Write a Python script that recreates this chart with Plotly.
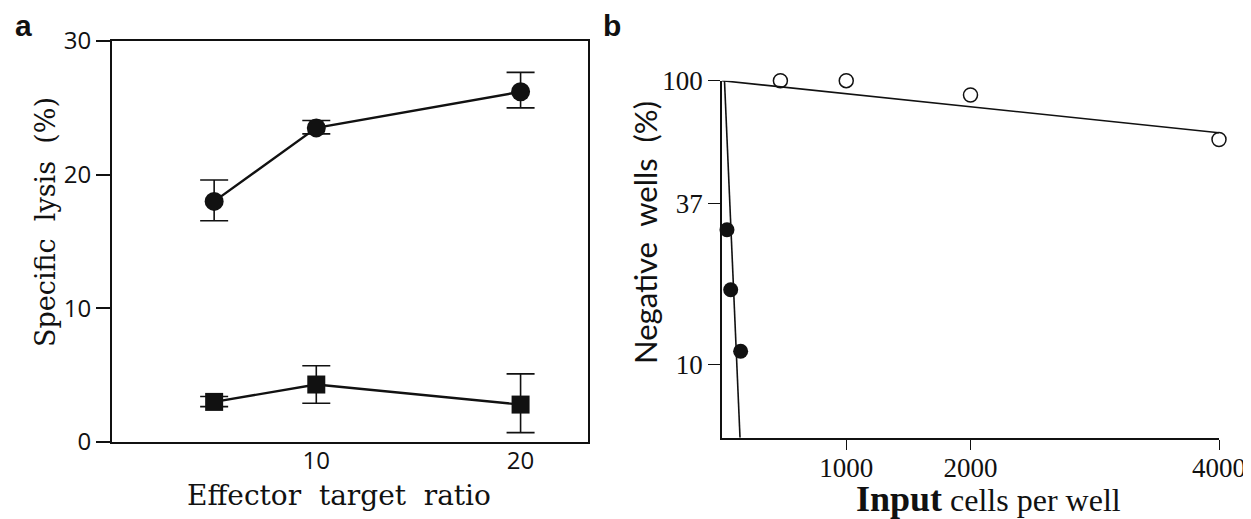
import plotly.graph_objects as go

# The page body has an 8 px margin, so the figure is drawn 8 px in from the
# window's top-left corner; size it to fill the rest of the 1251x519 window.
OFF = 8
W, H = 1251 - OFF, 519 - OFF

# ---- Panel a data ----
ratio = [5, 10, 20]
lysis_circle = [18.0, 23.5, 26.2]
lysis_circle_err_plus = [1.6, 0.55, 1.45]
lysis_circle_err_minus = [1.45, 0.45, 1.2]
lysis_square = [3.0, 4.3, 2.8]
lysis_square_err_plus = [0.4, 1.4, 2.3]
lysis_square_err_minus = [0.35, 1.4, 2.1]
a_xtick_vals = [10, 20]
a_ytick_vals = [0, 10, 20, 30]

# ---- Panel b data ----
open_x = [470, 1000, 2000, 4000]
open_y = [100, 100, 89, 62]
filled_x = [40, 70, 150]
filled_y = [29.8, 18.3, 11.1]
fit_open_x = [0, 4000]
fit_open_y = [100, 65.5]
fit_filled_x = [20, 145]
fit_filled_y = [100, 5.5]
b_xtick_vals = [1000, 2000, 4000]
b_ytick_vals = [10, 37, 100]

BLACK = "#111111"

fig = go.Figure()

# Panel a traces
fig.add_trace(go.Scatter(
    x=ratio, y=lysis_circle, mode="lines+markers",
    line=dict(color=BLACK, width=2.4),
    marker=dict(symbol="circle", size=19, color=BLACK),
    error_y=dict(type="data", array=lysis_circle_err_plus, arrayminus=lysis_circle_err_minus,
                 color=BLACK, thickness=1.6, width=14),
    xaxis="x", yaxis="y", showlegend=False, cliponaxis=False))
fig.add_trace(go.Scatter(
    x=ratio, y=lysis_square, mode="lines+markers",
    line=dict(color=BLACK, width=2.4),
    marker=dict(symbol="square", size=18, color=BLACK),
    error_y=dict(type="data", array=lysis_square_err_plus, arrayminus=lysis_square_err_minus,
                 color=BLACK, thickness=1.6, width=14),
    xaxis="x", yaxis="y", showlegend=False, cliponaxis=False))

# Panel b traces
fig.add_trace(go.Scatter(
    x=fit_open_x, y=fit_open_y, mode="lines",
    line=dict(color=BLACK, width=1.6),
    xaxis="x2", yaxis="y2", showlegend=False, cliponaxis=False))
fig.add_trace(go.Scatter(
    x=fit_filled_x, y=fit_filled_y, mode="lines",
    line=dict(color=BLACK, width=1.6),
    xaxis="x2", yaxis="y2", showlegend=False, cliponaxis=False))
fig.add_trace(go.Scatter(
    x=open_x, y=open_y, mode="markers",
    marker=dict(symbol="circle-open", size=14, color=BLACK, line=dict(width=1.5, color=BLACK)),
    xaxis="x2", yaxis="y2", showlegend=False, cliponaxis=False))
fig.add_trace(go.Scatter(
    x=filled_x, y=filled_y, mode="markers",
    marker=dict(symbol="circle", size=15, color=BLACK),
    xaxis="x2", yaxis="y2", showlegend=False, cliponaxis=False))

def px_x(p):
    return (p - OFF) / W

def px_y(p):
    return 1 - (p - OFF) / H

a_font = dict(family="Open Sans", size=24, color=BLACK)
b_font = dict(family="Liberation Serif", size=27, color=BLACK)

fig.update_layout(
    template="none",
    width=W, height=H,
    margin=dict(l=0, r=0, t=0, b=0, pad=0, autoexpand=False),
    paper_bgcolor="white", plot_bgcolor="white",
    xaxis=dict(domain=[px_x(112), px_x(588)], range=[0, 23.3],
               tickvals=a_xtick_vals, ticks="", showgrid=False, zeroline=False,
               showline=True, linecolor=BLACK, linewidth=1.8, mirror=True,
               tickfont=a_font, anchor="y", automargin=False, ticklabelstandoff=-4),
    yaxis=dict(domain=[px_y(442), px_y(41)], range=[0, 30],
               tickvals=a_ytick_vals, ticks="outside", ticklen=14, tickwidth=1.6,
               tickcolor=BLACK, showgrid=False, zeroline=False,
               showline=True, linecolor=BLACK, linewidth=1.8, mirror=True,
               tickfont=a_font, anchor="x", automargin=False),
    xaxis2=dict(domain=[px_x(722), px_x(1219)], range=[0, 4000],
                tickvals=b_xtick_vals, ticks="outside", ticklen=10, tickwidth=1.4,
                tickcolor=BLACK, showgrid=False, zeroline=False,
                showline=True, linecolor=BLACK, linewidth=1.6,
                tickfont=b_font, anchor="y2", automargin=False, ticklabelstandoff=-5),
    yaxis2=dict(domain=[px_y(437.7), px_y(80.7)], type="log",
                range=[0.7404, 2.0], tickvals=b_ytick_vals,
                ticktext=[str(v) for v in b_ytick_vals],
                ticks="outside", ticklen=12, tickwidth=1.4, tickcolor=BLACK,
                showgrid=False, zeroline=False,
                showline=True, linecolor=BLACK, linewidth=1.6,
                tickfont=b_font, anchor="x2", automargin=False),
)

panel_font = dict(family="Liberation Sans", size=30, color=BLACK)
ann = [
    dict(text="<b>a</b>", x=px_x(23), y=1.0, yanchor="top", font=panel_font),
    dict(text="<b>b</b>", x=px_x(612), y=1.0, yanchor="top", font=panel_font),
    dict(text="Specific  lysis  (%)", x=px_x(45), y=px_y(222), textangle=-90,
         font=dict(family="DejaVu Serif", size=27, color=BLACK)),
    dict(text="Effector  target  ratio", x=px_x(339), y=px_y(495),
         font=dict(family="DejaVu Serif", size=28, color=BLACK)),
    dict(text="Negative  wells  (%)", x=px_x(645), y=px_y(233), textangle=-90,
         font=dict(family="Lato", size=31, color=BLACK)),
    dict(text="<span style='font-size:36px'><b>Input</b></span> cells per well",
         x=px_x(988), y=px_y(499),
         font=dict(family="Liberation Serif", size=32, color=BLACK)),
]
for a in ann:
    a.setdefault("yanchor", "middle")
    a.update(xref="paper", yref="paper", showarrow=False, xanchor="center", borderpad=0)
fig.update_layout(annotations=ann)

fig.write_html("out.html")
